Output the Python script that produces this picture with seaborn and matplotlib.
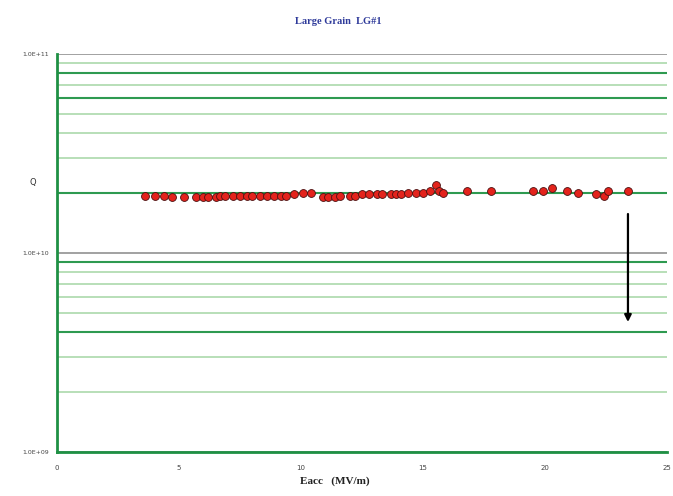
import numpy as np
import pandas as pd
import matplotlib
matplotlib.use("Agg")
import matplotlib.pyplot as plt
from matplotlib.ticker import LogLocator, MultipleLocator, FixedLocator, NullFormatter
import seaborn as sns

# ========== Data ==========
eacc = [3.6, 4.0, 4.4, 4.7, 5.2, 5.7, 6.0, 6.2, 6.5, 6.7, 6.9, 7.2, 7.5, 7.8, 8.0,
        8.3, 8.6, 8.9, 9.2, 9.4, 9.7, 10.1, 10.4, 10.9, 11.1, 11.4, 11.6, 12.0, 12.2,
        12.5, 12.8, 13.1, 13.3, 13.7, 13.9, 14.1, 14.4, 14.7, 15.0, 15.3, 15.55, 15.65,
        15.8, 16.8, 17.8, 19.5, 19.9, 20.3, 20.9, 21.35, 22.1, 22.4, 22.6, 23.4]
q0 = [1.94e10, 1.94e10, 1.94e10, 1.92e10, 1.92e10, 1.92e10, 1.92e10, 1.92e10, 1.92e10,
      1.94e10, 1.94e10, 1.94e10, 1.94e10, 1.94e10, 1.94e10, 1.94e10, 1.94e10, 1.94e10,
      1.94e10, 1.94e10, 1.97e10, 2.01e10, 2.01e10, 1.92e10, 1.92e10, 1.92e10, 1.94e10,
      1.94e10, 1.94e10, 1.97e10, 1.97e10, 1.97e10, 1.97e10, 1.99e10, 1.99e10, 1.99e10,
      2.01e10, 2.01e10, 2.01e10, 2.04e10, 2.20e10, 2.04e10, 2.01e10, 2.04e10, 2.04e10,
      2.04e10, 2.06e10, 2.11e10, 2.04e10, 2.01e10, 1.99e10, 1.94e10, 2.06e10, 2.04e10]

# quench arrow (start / end)
arrow_x = 23.4
arrow_q = [1.57e10, 4.5e9]

y_ticks = [1e9, 1e10, 1e11]
y_ticklabels = ["1.0E+09", "1.0E+10", "1.0E+11"]
x_ticks = [0, 5, 10, 15, 20, 25]
dark_minor = [2e10, 6e10, 8e10, 4e9, 9e9]

df = pd.DataFrame({"Eacc": eacc, "Q0": q0})

# ========== Plot ==========
sns.set_style("white")
plt.rcParams['font.family'] = ['DejaVu Sans']

fig = plt.figure(figsize=(6.73, 4.96), dpi=100)
ax = fig.add_axes([57 / 673, 1 - 452 / 496, 610 / 673, 398 / 496])

ax.set_yscale("log")
ax.set_xlim(0, 25)
ax.set_ylim(1e9, 1e11)

# grid: major grey, minor green
ax.yaxis.set_major_locator(FixedLocator(y_ticks))
ax.yaxis.set_minor_locator(LogLocator(base=10, subs=np.arange(2, 10)))
ax.yaxis.set_minor_formatter(NullFormatter())
ax.grid(axis="y", which="major", color="#9a9a9a", lw=1.3)
ax.grid(axis="y", which="minor", color="#b2dcb2", lw=1.3)
fig.canvas.draw()
for loc, tick in zip(ax.yaxis.get_minorticklocs(), ax.yaxis.get_minor_ticks()):
    if any(np.isclose(loc, d) for d in dark_minor):
        tick.gridline.set_color("#2e9a50")
        tick.gridline.set_linewidth(1.5)
ax.set_axisbelow(True)

sns.scatterplot(data=df, x="Eacc", y="Q0", ax=ax, s=32, color="#e3231c",
                edgecolor="#4a1010", linewidth=0.6, zorder=3, legend=False)

ax.annotate("", xy=(arrow_x, arrow_q[1]), xytext=(arrow_x, arrow_q[0]),
            arrowprops=dict(arrowstyle="-|>", color="black", lw=1.6,
                            mutation_scale=10, shrinkA=0, shrinkB=0))

# spines
for side in ["top", "right"]:
    ax.spines[side].set_visible(False)
for side in ["left", "bottom"]:
    ax.spines[side].set_color("#1f9044")
    ax.spines[side].set_linewidth(2)

# ticks
ax.set_yticks(y_ticks)
ax.set_yticklabels(y_ticklabels, fontsize=4.5, color="#444444")
ax.tick_params(axis="y", which="both", length=0, pad=6)
ax.set_xticks(x_ticks)
ax.set_xticklabels([str(t) for t in x_ticks], fontsize=5, color="#444444")
ax.xaxis.set_minor_locator(MultipleLocator(2))
ax.tick_params(axis="x", which="both", direction="in", length=3, color="#1f9044",
               width=1, pad=9)
ax.set_xlabel("")
ax.set_ylabel("")

# labels
fig.text(338 / 673, 1 - 22 / 496, "Large Grain  LG#1", ha="center", va="center",
         fontsize=7.5, fontweight="bold", color="#2e3a9a", family="Liberation Serif")
fig.text(335 / 673, 1 - 481 / 496, "Eacc   (MV/m)", ha="center", va="center",
         fontsize=8, fontweight="bold", color="#222222", family="Liberation Serif")
fig.text(33 / 673, 1 - 182 / 496, "Q", ha="center", va="center",
         fontsize=6, color="#333333")

fig.savefig("out.png", dpi=100)
